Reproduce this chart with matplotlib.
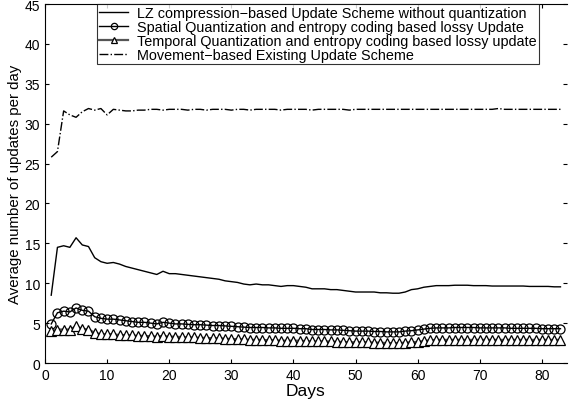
import numpy as np
import matplotlib
matplotlib.use("Agg")
import matplotlib.pyplot as plt

plt.rcParams['font.family'] = ['Liberation Sans', 'DejaVu Sans']

days = list(range(1, 84))

lz = [8.5, 14.5, 14.7, 14.5, 15.7, 14.8, 14.6, 13.2, 12.7, 12.5,
      12.6, 12.4, 12.1, 11.9, 11.7, 11.5, 11.3, 11.1, 11.5, 11.2,
      11.2, 11.1, 11.0, 10.9, 10.8, 10.7, 10.6, 10.5, 10.3, 10.2,
      10.1, 9.9, 9.8, 9.9, 9.8, 9.8, 9.7, 9.6, 9.7, 9.7,
      9.6, 9.5, 9.3, 9.3, 9.3, 9.2, 9.2, 9.1, 9.0, 8.9,
      8.9, 8.9, 8.9, 8.8, 8.8, 8.75, 8.75, 8.9, 9.2, 9.3,
      9.5, 9.6, 9.7, 9.7, 9.7, 9.75, 9.75, 9.75, 9.7, 9.7,
      9.7, 9.65, 9.65, 9.65, 9.65, 9.65, 9.65, 9.6, 9.6, 9.6,
      9.6, 9.55, 9.55]

spatial = [4.9, 6.3, 6.5, 6.4, 6.9, 6.6, 6.5, 5.8, 5.6, 5.5,
           5.5, 5.4, 5.3, 5.2, 5.1, 5.1, 5.0, 4.9, 5.1, 5.0,
           4.9, 4.9, 4.85, 4.8, 4.8, 4.75, 4.7, 4.7, 4.65, 4.6,
           4.55, 4.5, 4.45, 4.45, 4.45, 4.4, 4.4, 4.35, 4.35, 4.35,
           4.3, 4.3, 4.2, 4.2, 4.2, 4.15, 4.15, 4.1, 4.05, 4.0,
           4.0, 4.0, 3.95, 3.95, 3.9, 3.9, 3.9, 4.0, 4.05, 4.15,
           4.25, 4.35, 4.4, 4.4, 4.4, 4.45, 4.45, 4.45, 4.45, 4.4,
           4.4, 4.4, 4.4, 4.4, 4.35, 4.35, 4.35, 4.35, 4.35, 4.3,
           4.3, 4.3, 4.3]

temporal = [4.0, 4.2, 4.2, 4.2, 4.6, 4.3, 4.2, 3.8, 3.6, 3.6,
            3.6, 3.5, 3.5, 3.45, 3.4, 3.4, 3.35, 3.3, 3.4, 3.3,
            3.3, 3.25, 3.2, 3.2, 3.15, 3.15, 3.1, 3.1, 3.05, 3.0,
            3.0, 2.95, 2.9, 2.9, 2.9, 2.85, 2.85, 2.8, 2.8, 2.8,
            2.8, 2.75, 2.7, 2.7, 2.7, 2.7, 2.65, 2.65, 2.6, 2.6,
            2.6, 2.6, 2.55, 2.55, 2.5, 2.5, 2.5, 2.55, 2.6, 2.65,
            2.75, 2.85, 2.9, 2.9, 2.9, 2.9, 2.9, 2.9, 2.9, 2.9,
            2.9, 2.9, 2.9, 2.9, 2.9, 2.9, 2.9, 2.9, 2.9, 2.9,
            2.9, 2.9, 2.9]

movement = [25.8, 26.5, 31.6, 31.1, 30.8, 31.5, 31.9, 31.7, 31.9, 31.1,
            31.8, 31.7, 31.6, 31.6, 31.7, 31.7, 31.8, 31.8, 31.7, 31.8,
            31.8, 31.8, 31.7, 31.8, 31.8, 31.7, 31.8, 31.8, 31.8, 31.7,
            31.8, 31.8, 31.7, 31.8, 31.8, 31.8, 31.8, 31.7, 31.8, 31.8,
            31.8, 31.8, 31.7, 31.8, 31.8, 31.8, 31.8, 31.8, 31.7, 31.8,
            31.8, 31.8, 31.8, 31.8, 31.8, 31.8, 31.8, 31.8, 31.8, 31.8,
            31.8, 31.8, 31.8, 31.8, 31.8, 31.8, 31.8, 31.8, 31.8, 31.8,
            31.8, 31.8, 31.9, 31.8, 31.8, 31.8, 31.8, 31.8, 31.8, 31.8,
            31.8, 31.8, 31.8]

labels = ["LZ compression\u2212based Update Scheme without quantization",
          "Spatial Quantization and entropy coding based lossy Update",
          "Temporal Quantization and entropy coding based lossy update",
          "Movement\u2212based Existing Update Scheme"]

fig = plt.figure(figsize=(5.72, 4.02), dpi=100)
ax = fig.add_axes([0.0787, 0.0945, 0.912, 0.893])

ax.plot(days, lz, color='black', lw=1.0, label=labels[0])
ax.plot(days, spatial, color='black', lw=1.0, marker='o', ms=6.5,
        mfc='none', mec='black', mew=0.9, label=labels[1])
ax.plot(days, temporal, color='#555555', lw=1.6, marker='^', ms=6.5,
        mfc='white', mec='black', mew=0.9, label=labels[2])
ax.plot(days, movement, color='black', lw=1.0, ls='-.', label=labels[3])

ax.set_xlim(0, 84)
ax.set_ylim(0, 45)
ax.set_xticks(range(0, 81, 10))
ax.set_yticks(range(0, 46, 5))
ax.tick_params(direction='in', length=3, labelsize=10, right=True, top=True)
ax.spines['right'].set_visible(False)
ax.set_xlabel("Days", fontsize=12.5, labelpad=1)
ax.set_ylabel("Average number of updates per day", fontsize=10.8, labelpad=2)

leg = ax.legend(loc='upper left', bbox_to_anchor=(0.1, 1.0), fontsize=10.4,
                frameon=True, fancybox=False, edgecolor='black',
                handlelength=2.0, borderpad=0.15, labelspacing=0.0,
                borderaxespad=0.0, handletextpad=0.6, markerscale=0.7)
leg.get_frame().set_linewidth(0.8)

fig.savefig("out.png", dpi=100)
